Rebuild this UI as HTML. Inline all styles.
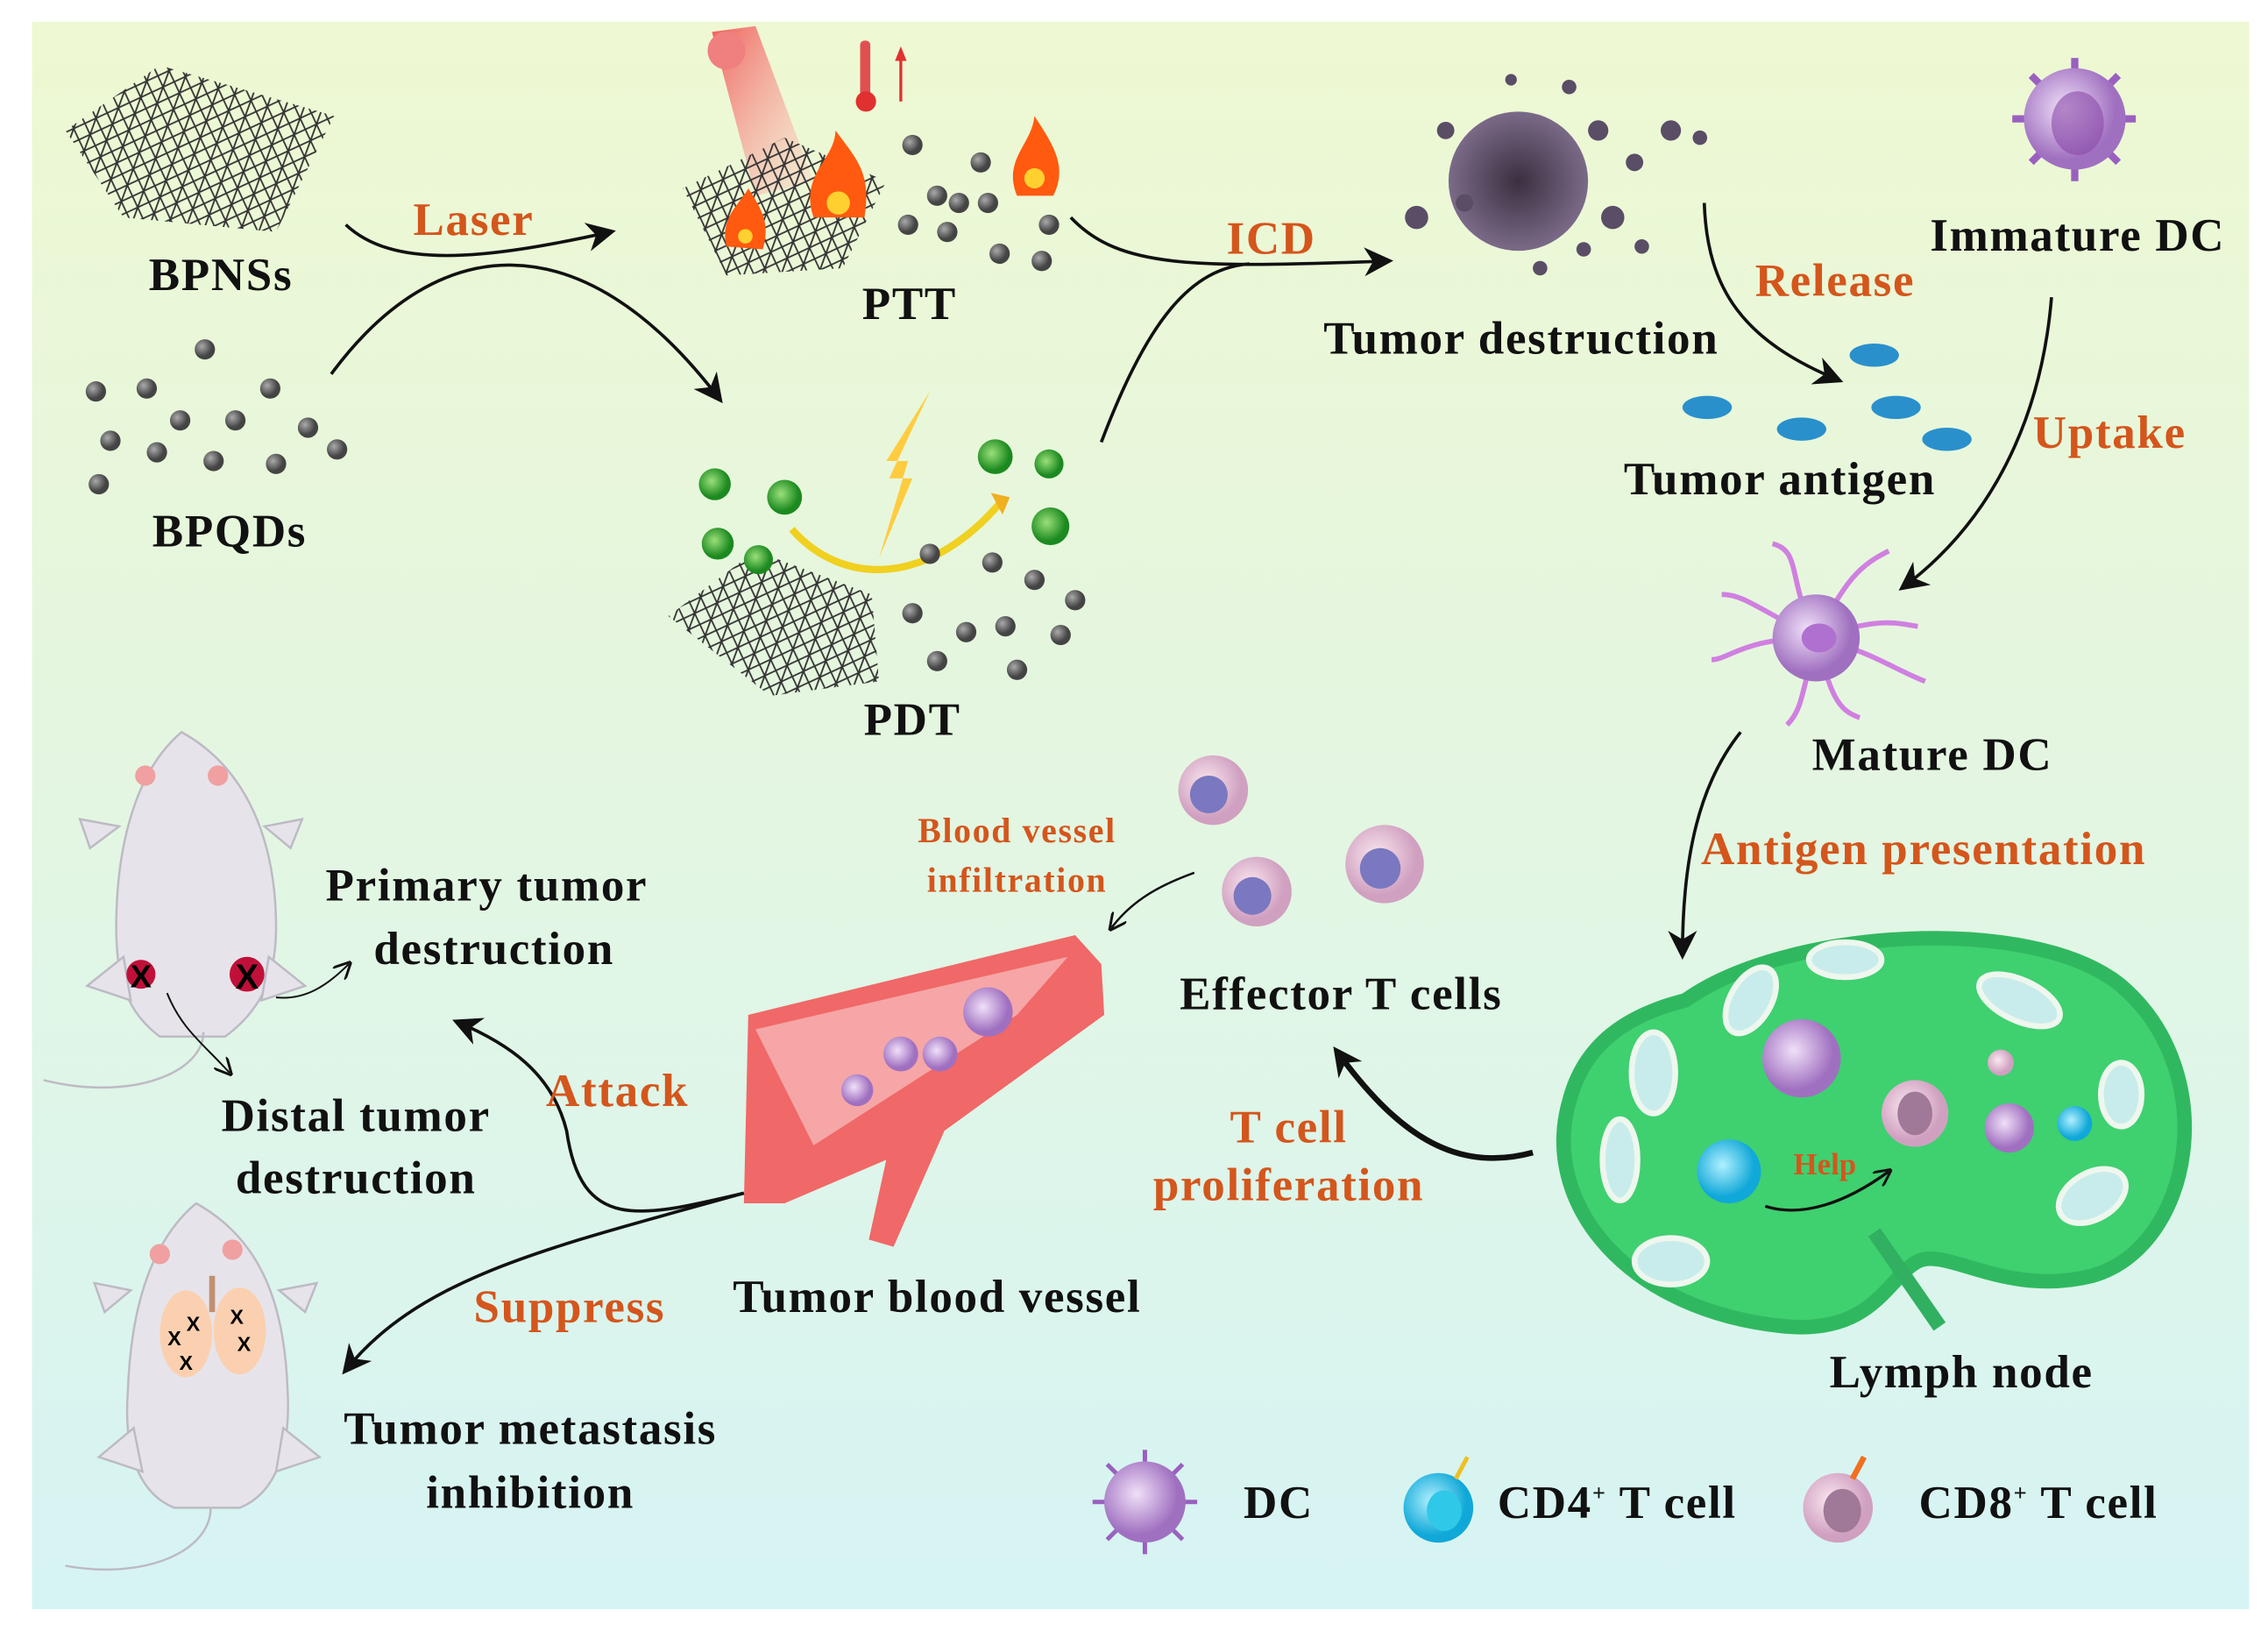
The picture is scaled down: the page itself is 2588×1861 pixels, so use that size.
<!DOCTYPE html>
<html><head><meta charset="utf-8"><style>
html,body{margin:0;padding:0;background:#fff}
svg{display:block}
.t{font-family:"Liberation Serif",serif;font-weight:bold;font-size:32px;letter-spacing:1px;fill:#111;text-anchor:middle}
.o{font-family:"Liberation Serif",serif;font-weight:bold;font-size:32px;letter-spacing:1px;fill:#d4561c;text-anchor:middle}
.ar{fill:none;stroke:#111;stroke-width:2.2}
</style></head><body>
<svg width="2588" height="1861" viewBox="0 0 1561 1125" preserveAspectRatio="none" xmlns="http://www.w3.org/2000/svg">
<defs>
<linearGradient id="bg" x1="0" y1="0" x2="0" y2="1">
<stop offset="0" stop-color="#eef8d2"/><stop offset="0.5" stop-color="#e3f6e2"/><stop offset="1" stop-color="#d6f4f4"/></linearGradient>
<pattern id="mesh" width="12" height="12" patternUnits="userSpaceOnUse" patternTransform="rotate(20)">
<path d="M0 0L12 12M12 0L0 12M6 0V12" stroke="#333" stroke-width="1.1" fill="none"/></pattern>
<radialGradient id="gd" cx="0.35" cy="0.35"><stop offset="0" stop-color="#aaa"/><stop offset="1" stop-color="#444"/></radialGradient>
<radialGradient id="gr" cx="0.4" cy="0.4"><stop offset="0" stop-color="#9be07a"/><stop offset="1" stop-color="#1c8a20"/></radialGradient>
<radialGradient id="pu" cx="0.4" cy="0.4"><stop offset="0" stop-color="#f0e0f8"/><stop offset="1" stop-color="#a070c0"/></radialGradient>
<radialGradient id="cy" cx="0.4" cy="0.4"><stop offset="0" stop-color="#b0f0ff"/><stop offset="1" stop-color="#10a8d8"/></radialGradient>
<radialGradient id="pk" cx="0.4" cy="0.4"><stop offset="0" stop-color="#fbe8f0"/><stop offset="1" stop-color="#d0a0c0"/></radialGradient>
<radialGradient id="tm" cx="0.5" cy="0.5"><stop offset="0" stop-color="#3a3040"/><stop offset="1" stop-color="#7a6a88"/></radialGradient>
<linearGradient id="beam" x1="0" y1="0" x2="1" y2="1"><stop offset="0" stop-color="#f05050" stop-opacity=".9"/><stop offset="1" stop-color="#ffd0c8" stop-opacity=".3"/></linearGradient>
<marker id="a2" viewBox="0 0 10 10" markerWidth="20" markerHeight="20" refX="8" refY="5" orient="auto" markerUnits="userSpaceOnUse"><path d="M0 0L10 5L0 10L3 5Z" fill="#111"/></marker>
<marker id="a3" viewBox="0 0 10 10" markerWidth="12" markerHeight="12" refX="8" refY="5" orient="auto" markerUnits="userSpaceOnUse"><path d="M0 0L10 5L0 10" fill="none" stroke="#111" stroke-width="1.5"/></marker>
</defs>
<rect width="1561" height="1125" fill="#fff"/>
<rect x="22" y="15" width="1526" height="1095" fill="url(#bg)"/>

<polygon points="45,90 110,45 230,80 190,160 85,150" fill="url(#mesh)"/>
<g fill="url(#gd)">
<circle cx="141" cy="241" r="7"/><circle cx="66" cy="270" r="7"/><circle cx="101" cy="268" r="7"/><circle cx="186" cy="268" r="7"/><circle cx="124" cy="290" r="7"/><circle cx="162" cy="290" r="7"/><circle cx="212" cy="295" r="7"/><circle cx="76" cy="304" r="7"/><circle cx="108" cy="312" r="7"/><circle cx="147" cy="318" r="7"/><circle cx="190" cy="320" r="7"/><circle cx="232" cy="310" r="7"/><circle cx="68" cy="334" r="7"/>
</g>
<polygon points="490,22 520,18 560,125 520,135" fill="url(#beam)"/>
<circle cx="500" cy="35" r="13" fill="#f08080"/>
<rect x="592" y="28" width="7" height="40" rx="3" fill="#e05050"/><circle cx="596" cy="70" r="7" fill="#e03030"/>
<path d="M620 70V36" stroke="#e03030" stroke-width="2"/><path d="M616 42L620 32L624 42Z" fill="#e03030"/>
<polygon points="470,130 540,95 610,125 580,185 500,190" fill="url(#mesh)"/>
<g fill="#ff5a10"><path d="M560 150 C550 120 575 110 575 90 C590 110 600 120 595 150 Z"/><path d="M500 170 C495 150 510 140 515 130 C525 145 530 155 525 172 Z"/><path d="M700 135 C690 110 710 100 712 80 C725 100 735 115 725 135 Z"/></g>
<g fill="#ffd030"><circle cx="577" cy="140" r="8"/><circle cx="513" cy="163" r="5"/><circle cx="712" cy="123" r="7"/></g>
<g fill="url(#gd)"><circle cx="628" cy="100" r="7"/><circle cx="675" cy="112" r="7"/><circle cx="645" cy="135" r="7"/><circle cx="660" cy="140" r="7"/><circle cx="680" cy="140" r="7"/><circle cx="625" cy="155" r="7"/><circle cx="652" cy="160" r="7"/><circle cx="722" cy="155" r="7"/><circle cx="688" cy="175" r="7"/><circle cx="717" cy="180" r="7"/></g>
<polygon points="460,425 520,380 600,410 605,470 530,480" fill="url(#mesh)"/>
<path d="M640 270 L612 330 L628 330 L605 385 L625 318 L610 318 Z" fill="#ffcc40"/>
<path d="M545 365 C580 405 640 405 690 345" fill="none" stroke="#f0d020" stroke-width="5"/><path d="M682 340 L695 343 L690 355Z" fill="#f0b020"/>
<g fill="url(#gr)"><circle cx="492" cy="334" r="11"/><circle cx="540" cy="343" r="12"/><circle cx="494" cy="375" r="11"/><circle cx="522" cy="386" r="10"/><circle cx="685" cy="315" r="12"/><circle cx="722" cy="320" r="10"/><circle cx="723" cy="363" r="13"/></g>
<g fill="url(#gd)"><circle cx="640" cy="382" r="7"/><circle cx="683" cy="388" r="7"/><circle cx="712" cy="400" r="7"/><circle cx="740" cy="414" r="7"/><circle cx="628" cy="423" r="7"/><circle cx="665" cy="436" r="7"/><circle cx="692" cy="432" r="7"/><circle cx="730" cy="438" r="7"/><circle cx="645" cy="456" r="7"/><circle cx="700" cy="462" r="7"/></g>
<path class="ar" d="M238 155 C270 185 330 180 420 160" marker-end="url(#a2)"/>
<path class="ar" d="M228 258 C300 160 400 150 495 275" marker-end="url(#a2)"/>
<path class="ar" d="M737 150 C770 185 820 185 955 180" marker-end="url(#a2)"/>
<path class="ar" d="M758 305 C790 220 820 185 860 182"/>
<circle cx="1045" cy="125" r="48" fill="url(#tm)"/>
<g fill="#5a4d66"><circle cx="975" cy="150" r="8"/><circle cx="995" cy="90" r="6"/><circle cx="1100" cy="90" r="7"/><circle cx="1110" cy="150" r="8"/><circle cx="1125" cy="112" r="6"/><circle cx="1150" cy="90" r="7"/><circle cx="1170" cy="95" r="5"/><circle cx="1080" cy="60" r="5"/><circle cx="1040" cy="55" r="4"/><circle cx="1130" cy="170" r="5"/><circle cx="1060" cy="185" r="5"/><circle cx="1008" cy="140" r="6"/><circle cx="1090" cy="172" r="5"/></g>
<g fill="#2a90cc"><ellipse cx="1290" cy="245" rx="17" ry="8"/><ellipse cx="1175" cy="281" rx="17" ry="8"/><ellipse cx="1305" cy="281" rx="17" ry="8"/><ellipse cx="1240" cy="296" rx="17" ry="8"/><ellipse cx="1340" cy="303" rx="17" ry="8"/></g>
<path class="ar" d="M1173 140 C1175 200 1200 235 1265 262" stroke-width="3" marker-end="url(#a2)"/>
<g stroke="#9a60c0" stroke-width="5"><path d="M1428 40V125M1385 82H1470M1398 52L1458 112M1458 52L1398 112"/></g>
<circle cx="1428" cy="82" r="35" fill="url(#pu)"/><ellipse cx="1430" cy="85" rx="18" ry="22" fill="#8a4aa8" opacity=".6"/>
<path class="ar" d="M1412 205 C1405 290 1370 360 1310 405" marker-end="url(#a2)"/>
<g stroke="#d080e0" stroke-width="3.5" fill="none"><path d="M1250 440 C1230 400 1240 380 1220 375M1250 440 C1270 400 1280 390 1300 380M1250 440 C1200 440 1190 455 1178 455M1250 440 C1290 450 1300 460 1325 470M1250 440 C1240 480 1240 490 1230 500M1250 440 C1260 480 1265 490 1280 495M1250 440 C1210 420 1200 410 1185 410M1250 440 C1295 425 1305 430 1320 432"/></g>
<circle cx="1250" cy="440" r="30" fill="url(#pu)"/><ellipse cx="1252" cy="440" rx="12" ry="10" fill="#b070d0"/>
<path class="ar" d="M1198 505 C1170 540 1158 590 1158 658" stroke-width="2.5" marker-end="url(#a2)"/>
<path d="M1160 690 C1230 640 1400 630 1460 680 C1530 740 1510 860 1440 880 C1380 895 1340 860 1320 870 C1300 880 1290 920 1230 915 C1120 905 1060 830 1080 760 C1090 720 1120 700 1160 690 Z" fill="#3fd070" stroke="#30b860" stroke-width="10"/>
<path d="M1290 850 L1335 915" stroke="#30b060" stroke-width="10"/>
<g fill="#c8eceb" stroke="#eef7ee" stroke-width="4"><ellipse cx="1205" cy="690" rx="14" ry="25" transform="rotate(30 1205 690)"/><ellipse cx="1138" cy="740" rx="15" ry="28"/><ellipse cx="1115" cy="800" rx="12" ry="28"/><ellipse cx="1150" cy="870" rx="25" ry="16"/><ellipse cx="1270" cy="662" rx="25" ry="12"/><ellipse cx="1390" cy="690" rx="30" ry="14" transform="rotate(25 1390 690)"/><ellipse cx="1460" cy="755" rx="14" ry="22"/><ellipse cx="1440" cy="825" rx="25" ry="16" transform="rotate(-30 1440 825)"/></g>
<circle cx="1240" cy="730" r="27" fill="url(#pu)"/>
<circle cx="1318" cy="768" r="23" fill="url(#pk)"/><ellipse cx="1318" cy="768" rx="12" ry="15" fill="#a07898"/>
<circle cx="1190" cy="808" r="22" fill="url(#cy)"/>
<circle cx="1383" cy="778" r="17" fill="url(#pu)"/>
<circle cx="1428" cy="775" r="12" fill="url(#cy)"/>
<circle cx="1377" cy="733" r="9" fill="url(#pk)"/>
<path d="M1215 832 C1240 840 1270 830 1300 808" fill="none" stroke="#111" stroke-width="2" marker-end="url(#a3)"/>
<text class="o" x="1256" y="810" style="font-size:21px;letter-spacing:0">Help</text>
<path d="M1055 795 C1000 810 960 780 920 725" fill="none" stroke="#111" stroke-width="4" marker-end="url(#a2)"/>
<g><circle cx="835" cy="545" r="24" fill="url(#pk)"/><circle cx="832" cy="548" r="13" fill="#7a78c0"/>
<circle cx="865" cy="615" r="24" fill="url(#pk)"/><circle cx="862" cy="618" r="13" fill="#7a78c0"/>
<circle cx="953" cy="596" r="27" fill="url(#pk)"/><circle cx="950" cy="599" r="14" fill="#7a78c0"/></g>
<path d="M822 602 C800 610 780 620 765 640" fill="none" stroke="#111" stroke-width="1.5" marker-end="url(#a3)"/>
<path d="M515 700 L740 645 L758 665 L760 700 L650 780 L615 860 L598 855 L610 800 L540 830 L512 830 Z" fill="#f06868"/>
<path d="M520 710 L735 660 L700 700 L560 790 Z" fill="#f8c0c0" opacity=".7"/>
<g fill="url(#pu)"><circle cx="680" cy="698" r="17"/><circle cx="620" cy="727" r="12"/><circle cx="647" cy="727" r="12"/><circle cx="590" cy="752" r="11"/></g>
<g fill="#e6e4ea" stroke="#bdbac4" stroke-width="1.5">
<path d="M125 505 C95 530 80 580 80 640 C80 680 90 700 110 715 L155 715 C175 700 190 680 190 640 C190 580 170 530 125 505 Z"/>
<path d="M82 570 L55 565 L62 585 Z M182 570 L208 565 L200 585 Z M85 660 L60 680 L90 690 Z M185 660 L210 680 L180 690 Z"/>
<path d="M140 712 C140 740 90 760 30 745" fill="none"/>
<path d="M135 830 C105 855 90 900 88 960 C85 1000 95 1030 120 1040 L165 1040 C190 1030 200 1000 198 960 C196 900 180 855 135 830 Z"/>
<path d="M90 890 L65 885 L72 905 Z M192 890 L218 885 L210 905 Z M92 985 L68 1005 L98 1015 Z M195 985 L220 1005 L190 1015 Z"/>
<path d="M145 1040 C145 1070 100 1090 45 1080" fill="none"/>
</g>
<g fill="#f0a0a0"><circle cx="100" cy="535" r="7"/><circle cx="150" cy="535" r="7"/><circle cx="110" cy="865" r="7"/><circle cx="160" cy="862" r="7"/></g>
<circle cx="97" cy="672" r="10" fill="#c0103a"/><circle cx="170" cy="672" r="12" fill="#c0103a"/>
<text x="97" y="681" font-family="Liberation Sans,sans-serif" font-size="22" font-weight="bold" text-anchor="middle">X</text>
<text x="170" y="682" font-family="Liberation Sans,sans-serif" font-size="24" font-weight="bold" text-anchor="middle">X</text>
<ellipse cx="128" cy="920" rx="18" ry="30" fill="#fbd0b0"/><ellipse cx="165" cy="918" rx="18" ry="30" fill="#fbd0b0"/>
<path d="M146 880 V905" stroke="#c09070" stroke-width="4"/>
<g font-family="Liberation Sans,sans-serif" font-size="14" font-weight="bold" text-anchor="middle"><text x="133" y="918">X</text><text x="120" y="928">X</text><text x="128" y="945">X</text><text x="163" y="913">X</text><text x="168" y="932">X</text></g>
<path d="M190 688 C210 690 225 680 240 665" fill="none" stroke="#111" stroke-width="1.2" marker-end="url(#a3)"/>
<path d="M115 685 C125 710 140 720 158 740" fill="none" stroke="#111" stroke-width="1.2" marker-end="url(#a3)"/>
<path class="ar" d="M512 823 C440 840 400 850 390 780 C380 740 350 720 315 705" marker-end="url(#a2)"/>
<path class="ar" d="M512 823 C380 860 290 880 238 945" marker-end="url(#a2)"/>
<g stroke="#9a60c0" stroke-width="3"><path d="M788 1000V1072M752 1036H824M762 1010L814 1062M814 1010L762 1062"/></g>
<circle cx="788" cy="1036" r="28" fill="url(#pu)"/>
<circle cx="990" cy="1040" r="24" fill="url(#cy)"/><ellipse cx="994" cy="1042" rx="12" ry="14" fill="#30c8e8"/>
<path d="M1002 1020 L1010 1005" stroke="#f0c020" stroke-width="3"/>
<circle cx="1265" cy="1040" r="24" fill="url(#pk)"/><ellipse cx="1268" cy="1042" rx="13" ry="15" fill="#a07898"/>
<path d="M1275 1020 L1283 1005" stroke="#f07020" stroke-width="4"/>

<text class="t" x="152" y="200">BPNSs</text>
<text class="t" x="158" y="377">BPQDs</text>
<text class="t" x="626" y="220">PTT</text>
<text class="t" x="628" y="507">PDT</text>
<text class="o" x="326" y="162">Laser</text>
<text class="o" x="875" y="175">ICD</text>
<text class="t" x="1047" y="244">Tumor destruction</text>
<text class="o" x="1263" y="204">Release</text>
<text class="t" x="1430" y="173">Immature DC</text>
<text class="t" x="1225" y="341">Tumor antigen</text>
<text class="o" x="1452" y="309">Uptake</text>
<text class="t" x="1330" y="531">Mature DC</text>
<text class="o" x="1324" y="596">Antigen presentation</text>
<text class="t" x="1350" y="957">Lymph node</text>
<text class="t" x="923" y="696">Effector T cells</text>
<text class="o" x="887" y="788">T cell</text>
<text class="o" x="887" y="828">proliferation</text>
<text class="o" x="700" y="581" style="font-size:24px">Blood vessel</text>
<text class="o" x="700" y="615" style="font-size:24px">infiltration</text>
<text class="t" x="335" y="621">Primary tumor</text>
<text class="t" x="340" y="665">destruction</text>
<text class="t" x="245" y="780">Distal tumor</text>
<text class="t" x="245" y="823">destruction</text>
<text class="o" x="425" y="763">Attack</text>
<text class="o" x="392" y="912">Suppress</text>
<text class="t" x="645" y="905">Tumor blood vessel</text>
<text class="t" x="365" y="996">Tumor metastasis</text>
<text class="t" x="365" y="1040">inhibition</text>
<text class="t" x="880" y="1047">DC</text>
<text class="t" x="1113" y="1047">CD4<tspan font-size="16" dy="-12">+</tspan><tspan dy="12"> T cell</tspan></text>
<text class="t" x="1403" y="1047">CD8<tspan font-size="16" dy="-12">+</tspan><tspan dy="12"> T cell</tspan></text>
</svg>
</body></html>
